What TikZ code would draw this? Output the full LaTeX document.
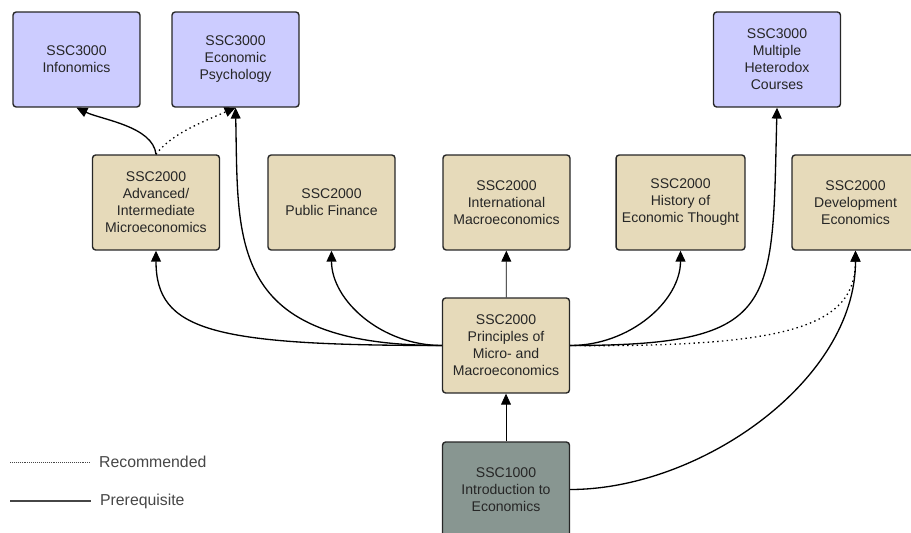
\documentclass[tikz,border=0pt]{standalone}
\usepackage{fontspec}
\setmainfont{Liberation Sans}
\usetikzlibrary{arrows.meta}

\definecolor{upperblue}{RGB}{204,204,255}
\definecolor{midtan}{RGB}{230,218,186}
\definecolor{introgray}{RGB}{136,150,145}
\definecolor{legendgray}{RGB}{70,70,70}

\tikzset{
  course/.style={draw=black!85, line width=0.8pt, rounded corners=1.8pt,
    minimum width=2.54cm, minimum height=1.9cm, align=center,
    font=\fontsize{8}{9.7}\selectfont, text=black!85},
  prereq/.style={line width=0.75pt, -{Triangle[length=6.2pt,width=5.6pt]}},
  straightreq/.style={prereq, line width=0.45pt},
  recom/.style={prereq, dash pattern=on 0.8pt off 1.9pt},
  legendtext/.style={anchor=west, inner xsep=5pt, font=\fontsize{9}{11}\selectfont, text=legendgray},
  legendline/.style={draw=legendgray, line width=0.6pt}
}

\begin{document}
\begin{tikzpicture}[x=0.02cm, y=-0.02cm]

    % Fix the page to the size of the reference
    \useasboundingbox (0,0) rectangle (911,533);

    % Upper level courses
    \node[course, fill=upperblue] (info)   at (76.5,59.5) {SSC3000\\Infonomics};
    \node[course, fill=upperblue] (psych)  at (235.5,59.5) {SSC3000\\Economic\\Psychology};
    \node[course, fill=upperblue] (hetero) at (777,59.5) {SSC3000\\Multiple\\Heterodox\\Courses};

    % Intermediate courses
    \node[course, fill=midtan] (adv)    at (156,202.5) {SSC2000\\Advanced/\\Intermediate\\Microeconomics};
    \node[course, fill=midtan] (pubfin) at (331.5,202.5) {SSC2000\\Public Finance};
    \node[course, fill=midtan] (intl)   at (506.5,202.5) {SSC2000\\International\\Macroeconomics};
    \node[course, fill=midtan] (hist)   at (680.5,202.5) {SSC2000\\History of\\Economic Thought};
    \node[course, fill=midtan] (dev)    at (855.5,202.5) {SSC2000\\Development\\Economics};

    % Principles and introduction
    \node[course, fill=midtan] (princ) at (506,345.5) {SSC2000\\Principles of\\Micro- and\\Macroeconomics};
    \node[course, fill=introgray] (intro) at (506,489.5) {SSC1000\\Introduction to\\Economics};

    % Straight prerequisites
    \draw[straightreq] (intro) -- (princ);
    \draw[straightreq] (princ) -- (intl);

    % Curved prerequisites out of the principles course
    \draw[prereq] (princ.west) .. controls +(-230,0) and +(0,80) .. (adv.south);
    \draw[prereq] (princ.west) .. controls +(-215,0) and +(3,135) .. (psych.south);
    \draw[prereq] (princ.west) .. controls +(-60,0) and +(0,50) .. (pubfin.south);
    \draw[prereq] (princ.east) .. controls +(60,0) and +(0,50) .. (hist.south);
    \draw[prereq] (princ.east) .. controls +(210,0) and +(-5,200) .. (hetero.south);
    \draw[prereq] (intro.east) .. controls +(130,0) and +(0,130) .. (dev.south);

    % Out of the microeconomics course
    \draw[prereq] (adv.north) .. controls +(-3,-28) and +(25,12) .. (info.south);

    % Recommended courses
    \draw[recom] (adv.north) .. controls +(15,-20) and +(-35,15) .. (psych.south);
    \draw[recom] (princ.east) .. controls +(220,2) and +(0,75) .. (dev.south);

    % Legend
    \coordinate (recstart) at (10,462);
    \coordinate (prestart) at (10,501);
    \node[legendtext] (rec) at (90,462) {Recommended};
    \node[legendtext] (pre) at (91,501) {Prerequisite};
    \draw[legendline, line width=0.4pt, dash pattern=on 0.5pt off 0.6pt] (recstart) -- (rec.west);
    \draw[legendline] (prestart) -- (pre.west);

\end{tikzpicture}
\end{document}
